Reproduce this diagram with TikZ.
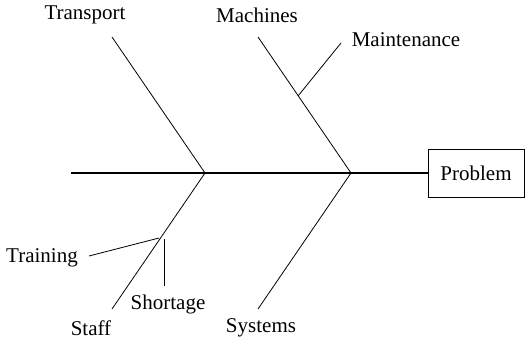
\documentclass[tikz,border=0pt]{standalone}
\usepackage{tikz}
\usepackage{fontspec}
\setmainfont{Liberation Serif}

\begin{document}
\begin{tikzpicture}[x=1pt,y=-1pt,line width=.8pt,
  lbl/.style={font=\fontsize{21}{25}\selectfont,inner sep=0pt}]
\useasboundingbox (0,0) rectangle (529,339);
% spine and head
\node[draw,lbl,minimum width=96pt,minimum height=48pt] (problem) at (476,173) {Problem};
\coordinate (tail) at (71,173);
\coordinate (j1) at (205,173);
\coordinate (j2) at (351,173);
\draw[line width=1.1pt] (tail) -- (problem.west);
% bones
\coordinate (transportend) at (112,37);
\coordinate (staffend) at (112,309);
\coordinate (machinesend) at (258,37);
\coordinate (systemsend) at (258,309);
\draw (j1) -- (transportend);
\draw (j1) -- (staffend);
\draw (j2) -- (machinesend);
\draw (j2) -- (systemsend);
% sub-causes
\coordinate (maintstart) at (298,96);
\coordinate (maintend) at (341,43);
\coordinate (trainstart) at (159,238);
\coordinate (trainend) at (89,256);
\coordinate (shortstart) at (164,239);
\coordinate (shortend) at (164,286);
\draw (maintstart) -- (maintend);
\draw (trainstart) -- (trainend);
\draw (shortstart) -- (shortend);
% labels
\node[lbl] (transport) at (85,15) {Transport};
\node[lbl] (machines) at (257,15) {Machines};
\node[lbl] (maintenance) at (406,40) {Maintenance};
\node[lbl] (training) at (42,258) {Training};
\node[lbl] (shortage) at (168,304) {Shortage};
\node[lbl] (staff) at (91,328) {Staff};
\node[lbl] (systems) at (261,328) {Systems};
\end{tikzpicture}
\end{document}
